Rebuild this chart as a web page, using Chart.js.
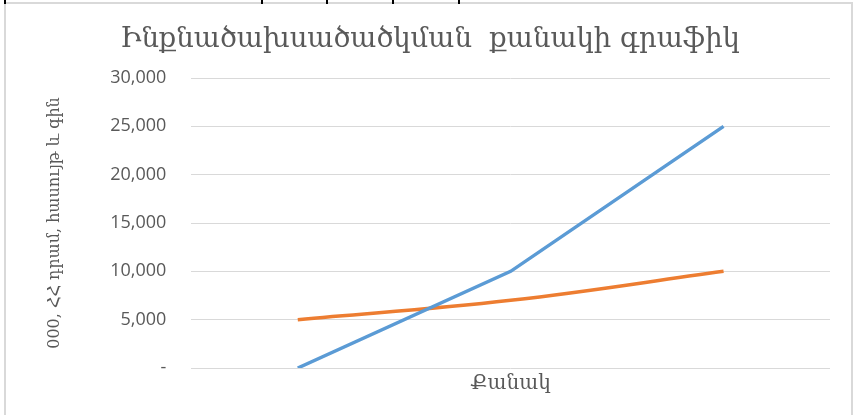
<!DOCTYPE html>
<html>
<head>
<meta charset="utf-8">
<script src="https://cdn.jsdelivr.net/npm/chart.js@4.4.1/dist/chart.umd.min.js"></script>
<style>
  html, body { margin: 0; padding: 0; background: #fff; }
  #wrap { position: relative; width: 857px; height: 415px; overflow: hidden; }
  #frame { position: absolute; left: 4px; top: 2px; width: 845px; height: 430px;
           border: 2px solid #d9d9d9; border-bottom: none; }
  .mark { position: absolute; top: 0; width: 2px; height: 4px; background: #000; }
  canvas { position: absolute; left: 0; top: 0; }
</style>
</head>
<body>
<div id="wrap">
  <div id="frame"></div>
  <div class="mark" style="left:4px"></div>
  <div class="mark" style="left:261px"></div>
  <div class="mark" style="left:326px"></div>
  <div class="mark" style="left:392px"></div>
  <div class="mark" style="left:458px"></div>
  <canvas id="chart" width="857" height="415"></canvas>
</div>
<script>
// chart data
var categories = ['', '', ''];
var blueValues = [0, 10000, 25000];
var orangeValues = [5000, 7000, 10000];
var yTicks = [0, 5000, 10000, 15000, 20000, 25000, 30000];

var chartTitle = 'Ինքնածախսածածկման  քանակի գրաֆիկ';
var xTitle = 'Քանակ';
var yTitle = '000, ՀՀ դրամ, հասույթ և գին';

var grey = '#595959';
var serif = "'DejaVu Serif', serif";

const config = {
  type: 'line',
  data: {
    labels: categories,
    datasets: [{
      label: 'blue',
      data: blueValues,
      borderColor: '#5B9BD5',
      borderWidth: 3.5,
      pointRadius: 0,
      tension: 0,
      fill: false
    }, {
      label: 'orange',
      data: orangeValues,
      borderColor: '#ED7D31',
      borderWidth: 3.5,
      pointRadius: 0,
      tension: 0.4,
      fill: false
    }]
  },
  options: {
    responsive: false,
    animation: false,
    layout: { padding: { left: 3, right: 0, top: 0, bottom: 19 } },
    plugins: {
      legend: { display: false },
      tooltip: { enabled: false },
      title: {
        display: true,
        text: chartTitle,
        color: grey,
        font: { family: serif, size: 27.5, weight: 'normal' },
        padding: { top: 23, bottom: 22 }
      }
    },
    scales: {
      x: {
        offset: true,
        grid: { display: false, drawTicks: false },
        border: { display: false },
        ticks: { display: false },
        title: {
          display: true,
          text: xTitle,
          color: grey,
          font: { family: serif, size: 20 },
          padding: { top: 4, bottom: 0 }
        }
      },
      y: {
        min: 0,
        max: 30000,
        afterBuildTicks: function(scale) {
          scale.ticks = yTicks.map(function(v) { return { value: v }; });
        },
        grid: { color: '#d9d9d9', lineWidth: 1, drawTicks: false },
        border: { display: false },
        ticks: {
          color: grey,
          padding: 25,
          font: { family: "'Open Sans', sans-serif", size: 18 },
          callback: function(v) { return v === 0 ? '-' : v.toLocaleString('en-US'); }
        },
        title: {
          display: true,
          text: yTitle,
          color: grey,
          font: { family: serif, size: 16 },
          padding: { top: 42, bottom: 21 }
        }
      },
      // empty right-side spacer so the plot ends where it does in the picture
      yRight: {
        type: 'linear',
        position: 'right',
        grid: { display: false, drawTicks: false },
        border: { display: false },
        ticks: { display: false },
        afterFit: function(scale) { scale.width = 27; }
      }
    }
  }
};

window.onload = function() {
  var ctx = document.getElementById('chart').getContext('2d');
  window.myChart = new Chart(ctx, config);
};
</script>
</body>
</html>
